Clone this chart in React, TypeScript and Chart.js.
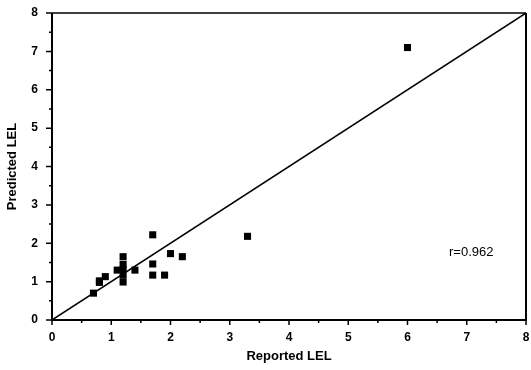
import React, { useEffect, useRef } from "react";
import { Chart, registerables } from "chart.js";

Chart.register(...registerables);

const reportedLEL = [0.7, 0.8, 0.8, 0.9, 1.1, 1.2, 1.2, 1.2, 1.2, 1.2, 1.4, 1.7, 1.7, 1.7, 1.9, 2.0, 2.2, 3.3, 6.0];
const predictedLEL = [0.7, 0.98, 1.02, 1.13, 1.3, 1.65, 1.45, 1.32, 1.17, 0.99, 1.3, 2.22, 1.46, 1.17, 1.17, 1.73, 1.65, 2.18, 7.1];
const identityX = [0, 8];
const identityY = [0, 8];
const axisMin = 0;
const axisMax = 8;
const majorTicks = [0, 1, 2, 3, 4, 5, 6, 7, 8];
const minorTicks = [0.5, 1.5, 2.5, 3.5, 4.5, 5.5, 6.5, 7.5];
const annotation = "r=0.962";
const xTitle = "Reported LEL";
const yTitle = "Predicted LEL";

const FONT = "'Liberation Sans', Arial, sans-serif";

const framePlugin = {
  id: "frame",
  afterDraw(chart: any) {
    const { ctx, chartArea: a, scales } = chart;
    const xs = scales.x;
    const ys = scales.y;
    ctx.save();
    ctx.strokeStyle = "#000";
    ctx.lineWidth = 2;
    ctx.beginPath();
    ctx.moveTo(a.left, a.top);
    ctx.lineTo(a.left, a.bottom);
    ctx.lineTo(a.right, a.bottom);
    ctx.lineTo(a.right, a.top);
    ctx.stroke();
    ctx.lineWidth = 1.5;
    ctx.beginPath();
    ctx.moveTo(a.left, a.top);
    ctx.lineTo(a.right, a.top);
    ctx.stroke();
    ctx.lineWidth = 1.5;
    ctx.beginPath();
    majorTicks.forEach((v) => {
      const px = xs.getPixelForValue(v);
      ctx.moveTo(px, a.bottom);
      ctx.lineTo(px, a.bottom + 5);
      const py = ys.getPixelForValue(v);
      ctx.moveTo(a.left, py);
      ctx.lineTo(a.left - 6, py);
    });
    minorTicks.forEach((v) => {
      const px = xs.getPixelForValue(v);
      ctx.moveTo(px, a.bottom);
      ctx.lineTo(px, a.bottom + 3);
      const py = ys.getPixelForValue(v);
      ctx.moveTo(a.left, py);
      ctx.lineTo(a.left - 3, py);
    });
    ctx.stroke();
    ctx.fillStyle = "#000";
    ctx.font = "13px " + FONT;
    ctx.textBaseline = "middle";
    ctx.textAlign = "left";
    ctx.fillText(annotation, xs.getPixelForValue(6.7), ys.getPixelForValue(1.75));
    ctx.restore();
  },
};

export default function App() {
  const ref = useRef<HTMLCanvasElement>(null);
  useEffect(() => {
    document.body.style.margin = "0";
    const points = reportedLEL.map((x, i) => ({ x, y: predictedLEL[i] }));
    const line = identityX.map((x, i) => ({ x, y: identityY[i] }));
    const chart = new Chart(ref.current!, {
      type: "scatter",
      data: {
        datasets: [
          {
            type: "line",
            data: line,
            borderColor: "#000",
            borderWidth: 1.5,
            pointRadius: 0,
            fill: false,
          } as any,
          {
            data: points,
            pointStyle: "rect",
            pointRadius: 5,
            backgroundColor: "#000",
            borderColor: "#000",
            borderWidth: 0,
          },
        ],
      },
      plugins: [framePlugin],
      options: {
        animation: false,
        responsive: false,
        layout: { padding: { top: 13, right: 2, left: 0, bottom: 0 } },
        plugins: { legend: { display: false }, tooltip: { enabled: false } },
        scales: {
          x: {
            type: "linear",
            min: axisMin,
            max: axisMax,
            grid: { display: false, drawTicks: false },
            border: { display: false },
            ticks: {
              stepSize: 1,
              color: "#000",
              padding: 10,
              maxRotation: 0,
              font: { family: FONT, size: 12, weight: "bold" },
            },
            title: {
              display: true,
              text: xTitle,
              color: "#000",
              padding: { top: 0, bottom: 6 },
              font: { family: FONT, size: 13, weight: "bold" },
            },
            afterFit(scale: any) {
              scale.height = 50;
              scale.paddingLeft = 0;
              scale.paddingRight = 0;
            },
          },
          y: {
            type: "linear",
            min: axisMin,
            max: axisMax,
            grid: { display: false, drawTicks: false },
            border: { display: false },
            ticks: {
              stepSize: 1,
              color: "#000",
              padding: 14,
              font: { family: FONT, size: 12, weight: "bold" },
            },
            title: {
              display: true,
              text: yTitle,
              color: "#000",
              padding: { top: 5, bottom: 0 },
              font: { family: FONT, size: 13, weight: "bold" },
            },
            afterFit(scale: any) {
              scale.width = 52;
              scale.paddingTop = 0;
              scale.paddingBottom = 0;
            },
          },
        },
      },
    });
    return () => chart.destroy();
  }, []);
  return (
    <div style={{ position: "absolute", left: 0, top: 0, width: 531, height: 370 }}>
      <canvas ref={ref} width={531} height={370} style={{ display: "block" }} />
    </div>
  );
}
